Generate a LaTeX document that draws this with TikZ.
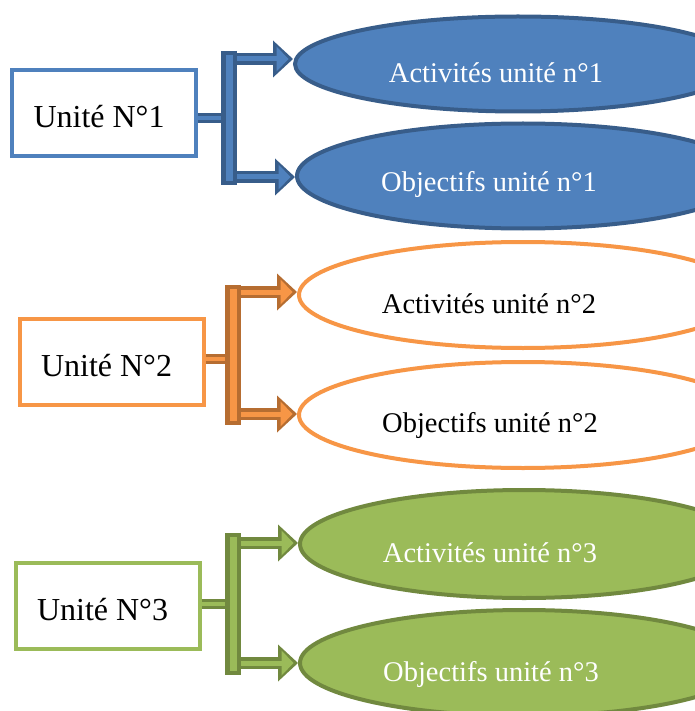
\documentclass[tikz,border=0pt]{standalone}
\usepackage{fontspec}
\setmainfont{Liberation Serif}
\usetikzlibrary{shapes, arrows.meta, positioning, calc}
\definecolor{blue1}{RGB}{79,129,189}
\definecolor{blue2}{RGB}{56,93,138}
\definecolor{orange1}{RGB}{247,150,70}
\definecolor{orange2}{RGB}{182,109,49}
\definecolor{green1}{RGB}{155,187,89}
\definecolor{green2}{RGB}{113,137,63}

\begin{document}
\begin{tikzpicture}[x=1pt, y=-1pt,
  unit/.style={draw=#1, line width=4pt, minimum width=184pt, minimum height=86pt, inner sep=0pt, text height=30pt, text depth=0pt, font=\fontsize{32}{38}\selectfont},
  bulle/.style={ellipse, draw=#1, line width=4pt, inner sep=0pt},
  etiq/.style={anchor=base, inner sep=0pt, font=\fontsize{28.5}{34}\selectfont},
  barre/.style={draw=#1, line width=16pt},
  barrein/.style={draw=#1, line width=7pt},
  lien/.style={draw=#1, line width=10pt},
  lienin/.style={draw=#1, line width=4pt},
  fleche/.style={draw=#1, line width=12pt, -{Triangle[length=20pt, width=37pt, line width=0pt]}},
  flechein/.style={draw=#1, line width=5pt, shorten >=4.5pt, -{Triangle[length=12pt, width=25pt, line width=0pt]}},
]
\useasboundingbox (0,0) rectangle (694,711);

% unite 1
\node[unit=blue1] (u1) at (104,113) {Unité N°1\hspace*{10pt}};
\node[bulle=blue2, fill=blue1, minimum width=446pt, minimum height=95pt] (a1) at (518,64) {};
\node[bulle=blue2, fill=blue1, minimum width=452pt, minimum height=105pt] (o1) at (523,176) {};
\node[etiq, text=white] (ta1) at (496,83) {Activités unité n°1};
\node[etiq, text=white] (to1) at (489,192) {Objectifs unité n°1};
\coordinate (h1) at (229,51);
\coordinate (k1) at (229,185);
\draw[lien=blue2] (u1.east |- 0,118) -- (h1 |- 0,118);
\draw[lienin=blue1] (u1.east |- 0,118) -- (h1 |- 0,118);
\draw[fleche=blue2] (h1 |- 0,59) -- (a1.west |- 0,59);
\draw[flechein=blue1] (h1 |- 0,59) -- (a1.west |- 0,59);
\draw[fleche=blue2] (h1 |- 0,177) -- (o1.west |- 0,177);
\draw[flechein=blue1] (h1 |- 0,177) -- (o1.west |- 0,177);
\draw[barre=blue2] (h1) -- (k1);
\draw[barrein=blue1] ([yshift=-4pt]h1) -- ([yshift=4pt]k1);

% unite 2
\node[unit=orange1] (u2) at (111.5,361.5) {Unité N°2\hspace*{10pt}};
\node[bulle=orange1, fill=white, minimum width=448pt, minimum height=106pt] (a2) at (523,295) {};
\node[bulle=orange1, fill=white, minimum width=448pt, minimum height=106pt] (o2) at (523,415) {};
\node[etiq] (ta2) at (489,313) {Activités unité n°2};
\node[etiq] (to2) at (490,432) {Objectifs unité n°2};
\coordinate (h2) at (233,285);
\coordinate (k2) at (233,425);
\draw[lien=orange2] (u2.east |- 0,359) -- (h2 |- 0,359);
\draw[lienin=orange1] (u2.east |- 0,359) -- (h2 |- 0,359);
\draw[fleche=orange2] (h2 |- 0,292) -- (a2.west |- 0,292);
\draw[flechein=orange1] (h2 |- 0,292) -- (a2.west |- 0,292);
\draw[fleche=orange2] (h2 |- 0,414) -- (o2.west |- 0,414);
\draw[flechein=orange1] (h2 |- 0,414) -- (o2.west |- 0,414);
\draw[barre=orange2] (h2) -- (k2);
\draw[barrein=orange1] ([yshift=-4pt]h2) -- ([yshift=4pt]k2);

% unite 3
\node[unit=green1] (u3) at (107.5,605.5) {Unité N°3\hspace*{10pt}};
\node[bulle=green2, fill=green1, minimum width=448pt, minimum height=108pt] (a3) at (524,544) {};
\node[bulle=green2, fill=green1, minimum width=448pt, minimum height=106pt] (o3) at (524,663) {};
\node[etiq, text=white] (ta3) at (490,562) {Activités unité n°3};
\node[etiq, text=white] (to3) at (491,681) {Objectifs unité n°3};
\coordinate (h3) at (233,533);
\coordinate (k3) at (233,675);
\draw[lien=green2] (u3.east |- 0,604) -- (h3 |- 0,604);
\draw[lienin=green1] (u3.east |- 0,604) -- (h3 |- 0,604);
\draw[fleche=green2] (h3 |- 0,543) -- (a3.west |- 0,543);
\draw[flechein=green1] (h3 |- 0,543) -- (a3.west |- 0,543);
\draw[fleche=green2] (h3 |- 0,663) -- (o3.west |- 0,663);
\draw[flechein=green1] (h3 |- 0,663) -- (o3.west |- 0,663);
\draw[barre=green2] (h3) -- (k3);
\draw[barrein=green1] ([yshift=-4pt]h3) -- ([yshift=4pt]k3);
\end{tikzpicture}
\end{document}
